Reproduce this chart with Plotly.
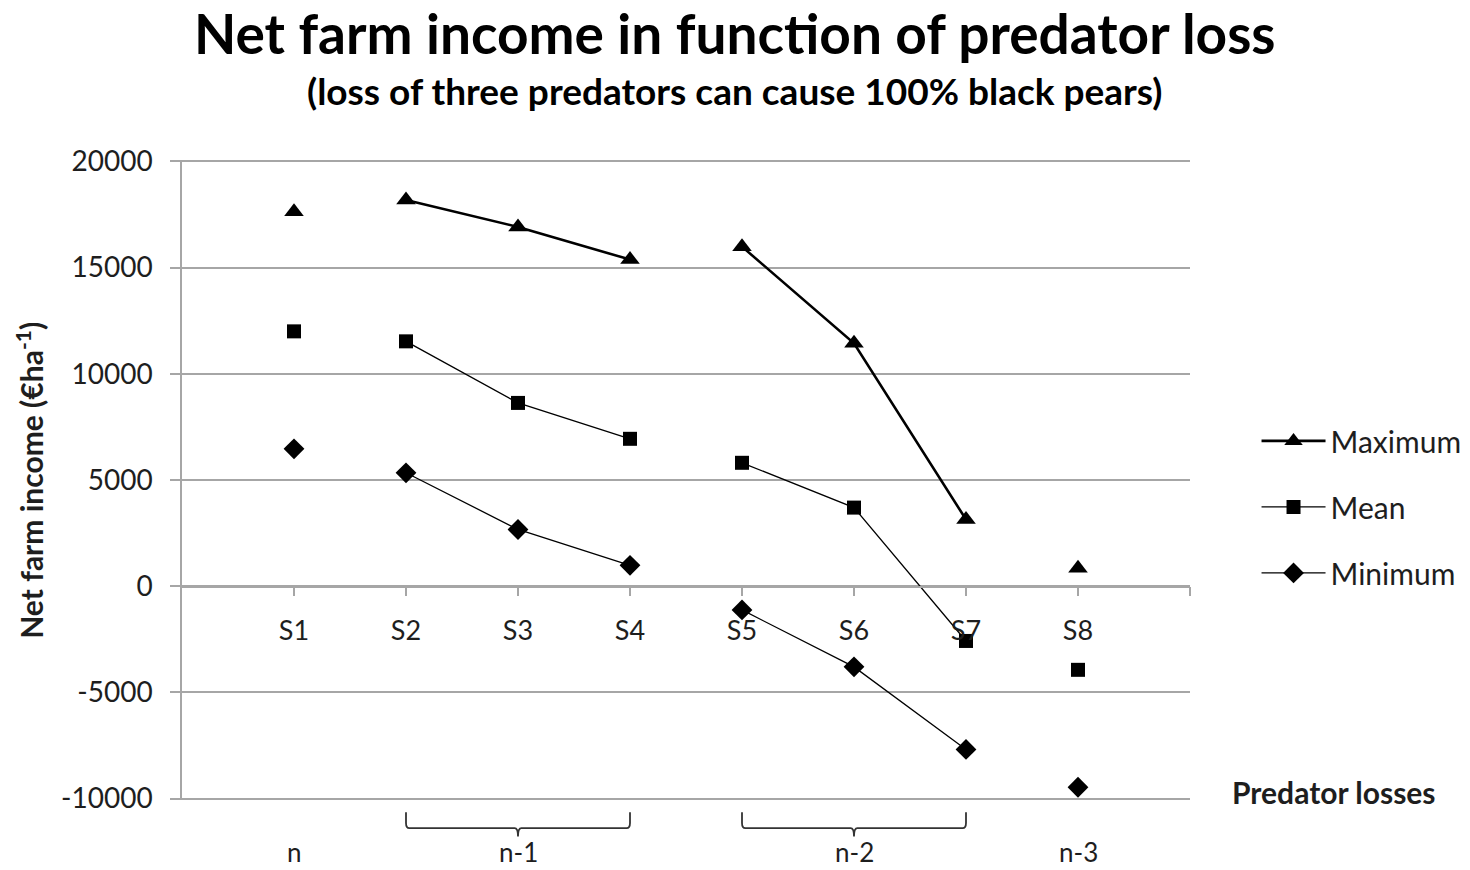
import plotly.graph_objects as go

categories = ["S1", "S2", "S3", "S4", "S5", "S6", "S7", "S8"]
maximum = [17630, 18190, 16920, 15380, 15990, 11440, 3140, 840]
mean = [12000, 11530, 8630, 6940, 5810, 3700, -2580, -3940]
minimum = [6470, 5340, 2670, 980, -1120, -3800, -7690, -9470]
groups = [[0], [1, 2, 3], [4, 5, 6], [7]]
group_labels = ["n", "n-1", "n-2", "n-3"]
y_ticks = [-10000, -5000, 0, 5000, 10000, 15000, 20000]

FONT = "Lato"
GRID = "#a6a6a6"
TXT = "#1e1e1e"

xpos = list(range(1, len(categories) + 1))


def gapped(vals):
    xs, ys = [], []
    for gi, g in enumerate(groups):
        if gi > 0:
            xs.append(None)
            ys.append(None)
        for i in g:
            xs.append(xpos[i])
            ys.append(vals[i])
    return xs, ys


fig = go.Figure()
series = [
    ("Maximum", maximum, "triangle-up", 17, 2.6),
    ("Mean", mean, "square", 14, 1.3),
    ("Minimum", minimum, "diamond", 16, 1.3),
]
for name, vals, sym, msize, lw in series:
    xs, ys = gapped(vals)
    fig.add_trace(go.Scatter(
        x=xs, y=ys, name=name, legendgroup=name, mode="lines+markers",
        line=dict(color="black", width=lw),
        marker=dict(symbol=sym, size=msize, color="black"),
        connectgaps=False,
    ))

# brackets and group labels below the plot
top, bot, spike = -0.019, -0.044, -0.057
for g, lab in zip(groups, group_labels):
    x0, x1 = xpos[g[0]], xpos[g[-1]]
    xc = (x0 + x1) / 2
    if len(g) > 1:
        r = 0.03
        path = (f"M {x0},{top} L {x0},{bot + 0.008} Q {x0},{bot} {x0 + r},{bot} "
                f"L {xc - r},{bot} Q {xc},{bot} {xc},{spike} Q {xc},{bot} {xc + r},{bot} "
                f"L {x1 - r},{bot} Q {x1},{bot} {x1},{bot + 0.008} L {x1},{top}")
        fig.add_shape(type="path", path=path, xref="x", yref="paper",
                      line=dict(color="#333", width=1.8))
    fig.add_annotation(x=xc, y=-0.082, xref="x", yref="paper", text=lab,
                       showarrow=False, font=dict(family=FONT, size=26, color=TXT),
                       yanchor="middle")

fig.add_annotation(x=1.04, y=0.012, xref="paper", yref="paper", xanchor="left",
                   yanchor="middle", text="<b>Predator losses</b>", showarrow=False,
                   font=dict(family=FONT, size=30, color=TXT))

fig.add_annotation(x=0.5486, y=1.198, xref="paper", yref="paper",
                   text="<b>Net farm income in function of predator loss</b>",
                   showarrow=False, font=dict(family=FONT, size=55, color="black"),
                   yanchor="middle")
fig.add_annotation(x=0.5486, y=1.108, xref="paper", yref="paper",
                   text="<b>(loss of three predators can cause 100% black pears)</b>",
                   showarrow=False, font=dict(family=FONT, size=37, color="black"),
                   yanchor="middle")
fig.add_annotation(x=-0.151, y=0.5, xref="paper", yref="paper", textangle=-90,
                   text="<b>Net farm income (€ha<sup>-1</sup>)</b>",
                   showarrow=False, font=dict(family=FONT, size=30, color=TXT),
                   xanchor="center", yanchor="middle")

fig.update_layout(
    width=1470, height=870,
    margin=dict(l=182, r=280, t=160, b=70, autoexpand=False),
    paper_bgcolor="white", plot_bgcolor="white",
    showlegend=True,
    legend=dict(x=1.066, y=0.458, xanchor="left", yanchor="middle",
                font=dict(family=FONT, size=30, color=TXT),
                tracegroupgap=24, itemwidth=64, bgcolor="rgba(0,0,0,0)"),
    xaxis=dict(range=[0, len(categories) + 1], anchor="free", position=1 / 3,
               tickvals=xpos + [len(categories) + 1],
               ticktext=categories + [""],
               ticks="outside", ticklen=9, tickcolor=GRID, tickwidth=1.5,
               showline=True, linecolor=GRID, linewidth=1.5,
               showgrid=False, zeroline=False,
               tickfont=dict(family=FONT, size=27, color=TXT),
               ticklabelstandoff=11),
    yaxis=dict(range=[-10070, 20070], tickvals=y_ticks,
               ticktext=[str(v) for v in y_ticks],
               ticks="outside", ticklen=10, tickcolor=GRID, tickwidth=1.5,
               showline=True, linecolor=GRID, linewidth=1.5,
               showgrid=True, gridcolor=GRID, gridwidth=1.5,
               zeroline=False,
               tickfont=dict(family=FONT, size=28, color=TXT),
               ticklabelstandoff=12),
)

fig.write_html("out.html")
